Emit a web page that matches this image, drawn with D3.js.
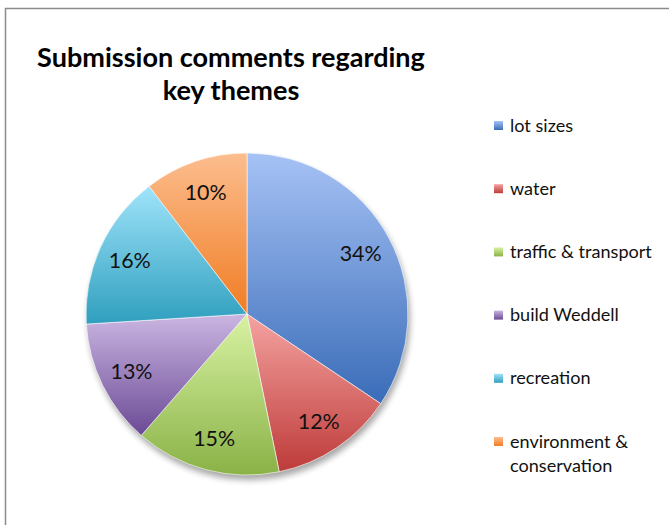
<!DOCTYPE html>
<html><head><meta charset="utf-8">
<script src="https://cdn.jsdelivr.net/npm/d3@7"></script>
<style>html,body{margin:0;padding:0;background:#fff;overflow:hidden}</style>
</head><body>
<svg id="c" width="669" height="525"></svg>
<script>
const categories = ["lot sizes","water","traffic & transport","build Weddell","recreation","environment & conservation"];
const values = [34.4, 12.4, 14.6, 12.6, 15.6, 10.4];
const legendLines = [["lot sizes"],["water"],["traffic & transport"],["build Weddell"],["recreation"],["environment &","conservation"]];
const colorTop = ["#a6c2f5","#f5a3a1","#d8f2a3","#cab6e2","#a0e4fb","#fcbd8e"];
const colorBottom = ["#3a6cb8","#bd3b39","#8ab247","#6b4a95","#2f9fbe","#f07d24"];
const titleLines = ["Submission comments regarding","key themes"];

const svg = d3.select("#c");
const defs = svg.append("defs");
categories.forEach((c,i)=>{
  const g = defs.append("linearGradient").attr("id","g"+i).attr("x1",0).attr("y1",0).attr("x2",0).attr("y2",1);
  g.append("stop").attr("offset","0%").attr("stop-color",colorTop[i]);
  g.append("stop").attr("offset","100%").attr("stop-color",colorBottom[i]);
});
const f = defs.append("filter").attr("id","sh").attr("x","-20%").attr("y","-20%").attr("width","140%").attr("height","140%");
f.append("feGaussianBlur").attr("stdDeviation",3);

// frame
svg.append("rect").attr("x",5.5).attr("y",8.5).attr("width",800).attr("height",700)
  .attr("fill","none").attr("stroke","#8c8c8c").attr("stroke-width",1.5);

// title
const title = svg.append("g").attr("font-family","Lato, 'Open Sans', sans-serif").attr("font-weight","bold").attr("fill","#000");
title.selectAll("text").data(titleLines).join("text")
  .attr("x",231).attr("y",(d,i)=>67+i*33).attr("text-anchor","middle").attr("font-size",25).text(d=>d);
const t0 = title.select("text").node();
const fs = 25*388/t0.getComputedTextLength();
title.selectAll("text").attr("font-size",fs);

const cx=247, cy=314, R=161;
const pie = d3.pie().sort(null).value(d=>d)(values);
const arc = d3.arc().innerRadius(0).outerRadius(R);
const g = svg.append("g").attr("transform",`translate(${cx},${cy})`);
g.append("circle").attr("cx",2).attr("cy",5).attr("r",R).attr("fill","#000").attr("opacity",0.35).attr("filter","url(#sh)");
g.selectAll("path.s").data(pie).join("path").attr("class","s")
  .attr("d",arc).attr("fill",(d,i)=>`url(#g${i})`).attr("stroke","#fff").attr("stroke-width",0.6);

const total = d3.sum(values);
const lab = g.selectAll("text.l").data(pie).join("text").attr("class","l")
  .attr("transform",d=>{const a=(d.startAngle+d.endAngle)/2; const r=R*0.8; return `translate(${r*Math.sin(a)},${-r*Math.cos(a)})`;})
  .attr("text-anchor","middle").attr("dy","0.36em")
  .attr("font-family","Lato, 'Open Sans', sans-serif").attr("font-size",20).attr("fill","#111")
  .text(d=>Math.round(d.value/total*100)+"%");
const lw = lab.node().getComputedTextLength();
lab.attr("font-size",20*42/lw);

// legend
const lg = svg.append("g").attr("font-family","Lato, 'Open Sans', sans-serif").attr("font-size",15).attr("fill","#111");
const ly = d3.scalePoint().domain(categories).range([126,442]);
const texts = [];
categories.forEach((c,i)=>{
  const y = ly(c);
  lg.append("rect").attr("x",494).attr("y",y-5).attr("width",9).attr("height",9).attr("fill",`url(#g${i})`);
  const t = lg.append("text").attr("x",510).attr("y",y+5.5);
  legendLines[i].forEach((s,j)=>t.append("tspan").attr("x",510).attr("dy",j?24:0).text(s));
  texts.push(t);
});
const tw = texts[2].node().getComputedTextLength();
lg.attr("font-size",15*142/tw);
</script>
</body></html>
